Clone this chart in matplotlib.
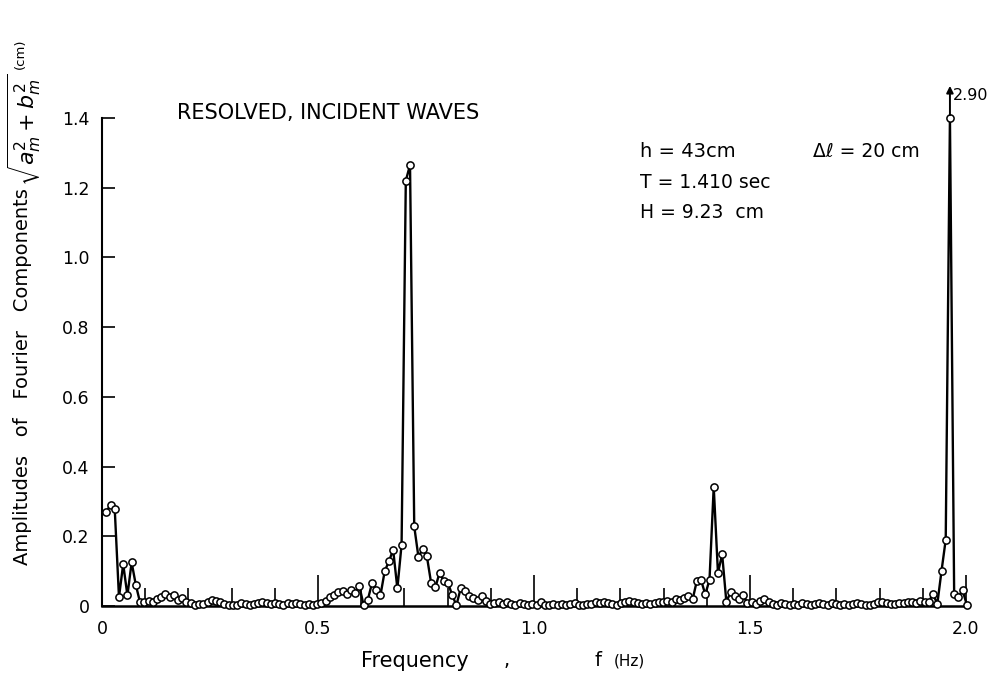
import numpy as np
import matplotlib
matplotlib.use("Agg")
import matplotlib.pyplot as plt

# frequency resolution of the record (1/102.4 s), harmonics k = 1..205
df = 1.0 / 102.4
harmonic = np.arange(1, 206)

# amplitude sqrt(a_m^2 + b_m^2) in cm
amp = [
    0.270, 0.290, 0.277, 0.025, 0.120, 0.030, 0.125, 0.060, 0.010, 0.012,   # k 1-10
    0.015, 0.012, 0.020, 0.027, 0.034, 0.025, 0.032, 0.017, 0.024, 0.012,   # k 11-20
    0.008, 0.003, 0.005, 0.006, 0.012, 0.017, 0.015, 0.012, 0.006, 0.003,   # k 21-30
    0.004, 0.003, 0.008, 0.005, 0.003, 0.005, 0.007, 0.011, 0.008, 0.005,   # k 31-40
    0.009, 0.006, 0.004, 0.007, 0.005, 0.009, 0.006, 0.004, 0.005, 0.003,   # k 41-50
    0.006, 0.008, 0.013, 0.025, 0.032, 0.040, 0.044, 0.034, 0.047, 0.037,   # k 51-60
    0.056, 0.002, 0.018, 0.066, 0.047, 0.031, 0.100, 0.128, 0.161, 0.050,   # k 61-70
    0.176, 1.220, 1.265, 0.228, 0.140, 0.164, 0.142, 0.066, 0.053, 0.095,   # k 71-80
    0.071, 0.066, 0.031, 0.002, 0.050, 0.042, 0.028, 0.023, 0.018, 0.028,   # k 81-90
    0.013, 0.006, 0.008, 0.010, 0.005, 0.010, 0.006, 0.004, 0.008, 0.005,   # k 91-100
    0.003, 0.006, 0.004, 0.010, 0.004, 0.003, 0.005, 0.004, 0.006, 0.003,   # k 101-110
    0.005, 0.008, 0.004, 0.003, 0.006, 0.005, 0.010, 0.007, 0.012, 0.008,   # k 111-120
    0.005, 0.003, 0.008, 0.012, 0.015, 0.010, 0.007, 0.005, 0.008, 0.006,   # k 121-130
    0.009, 0.012, 0.010, 0.015, 0.012, 0.020, 0.017, 0.024, 0.029, 0.019,   # k 131-140
    0.072, 0.074, 0.033, 0.075, 0.342, 0.095, 0.148, 0.011, 0.040, 0.029,   # k 141-150
    0.021, 0.030, 0.008, 0.010, 0.006, 0.014, 0.019, 0.012, 0.006, 0.004,   # k 151-160
    0.008, 0.005, 0.003, 0.006, 0.004, 0.007, 0.005, 0.003, 0.006, 0.008,   # k 161-170
    0.005, 0.004, 0.007, 0.005, 0.003, 0.006, 0.004, 0.005, 0.008, 0.006,   # k 171-180
    0.004, 0.003, 0.006, 0.010, 0.012, 0.008, 0.006, 0.005, 0.009, 0.007,   # k 181-190
    0.010, 0.012, 0.009, 0.015, 0.012, 0.012, 0.035, 0.005, 0.100, 0.190,   # k 191-200
    2.900, 0.035, 0.025, 0.045, 0.003,                                      # k 201-205
]

freq = harmonic * df
amp = np.array(amp)
ytop = 1.4

fig = plt.figure(figsize=(10.01, 6.74), dpi=100)
ax = fig.add_axes([0.102, 0.101, 0.863, 0.724])

# off-scale values are drawn at the top of the axis
ax.plot(freq, np.minimum(amp, ytop), "-o", color="black", lw=1.7,
        ms=5.2, mfc="white", mec="black", mew=1.1, clip_on=False, zorder=3)

ax.set_xlim(0, 2.0)
ax.set_ylim(0, ytop)
for s in ["top", "right"]:
    ax.spines[s].set_visible(False)
ax.spines["left"].set_linewidth(1.5)
ax.spines["bottom"].set_linewidth(1.8)

ax.set_xticks([0, 0.5, 1.0, 1.5, 2.0])
ax.set_xticklabels(["0", "0.5", "1.0", "1.5", "2.0"])
ax.set_xticks(np.arange(1, 20) / 10, minor=True)
ax.set_yticks(np.arange(0, 8) * 0.2)
ax.set_yticklabels(["0", "0.2", "0.4", "0.6", "0.8", "1.0", "1.2", "1.4"])
ax.tick_params(axis="x", which="major", direction="in", length=22, width=1.2,
               labelsize=12.5, pad=10)
ax.tick_params(axis="x", which="minor", direction="in", length=13, width=1.2)
ax.tick_params(axis="y", direction="in", length=9, width=1.2, labelsize=12.5, pad=9)

# the clipped spike
kmax = int(np.argmax(amp))
ax.annotate("", xy=(freq[kmax], ytop + 0.1), xytext=(freq[kmax], ytop),
            arrowprops=dict(arrowstyle="-|>", color="black", lw=1.4,
                            mutation_scale=10), annotation_clip=False)
ax.text(freq[kmax] + 0.007, ytop + 0.065, "%.2f" % amp[kmax], fontsize=11.5,
        va="center", ha="left")

fig.text(0.177, 0.833, "RESOLVED, INCIDENT WAVES", fontsize=15, va="center")
fig.text(0.639, 0.775, "h = 43cm", fontsize=14, va="center")
fig.text(0.812, 0.775, "Δℓ = 20 cm", fontsize=13.5, va="center")
fig.text(0.639, 0.729, "T = 1.410 sec", fontsize=13.5, va="center")
fig.text(0.639, 0.684, "H = 9.23  cm", fontsize=13.5, va="center")

fig.text(0.361, 0.020, "Frequency", fontsize=15, va="center")
fig.text(0.503, 0.020, ",", fontsize=14, va="center")
fig.text(0.594, 0.020, "f", fontsize=14, va="center")
fig.text(0.613, 0.020, "(Hz)", fontsize=11, va="center")

# y label in three pieces, chained one after the other
r = fig.canvas.get_renderer()
t1 = fig.text(0.022, 0.162, "Amplitudes   of   Fourier   Components",
              fontsize=14, rotation=90, va="bottom", ha="center")
y1 = t1.get_window_extent(r).y1 / fig.bbox.height
t2 = fig.text(0.024, y1 + 0.003, r"$\sqrt{a_m^2+b_m^2}$",
              fontsize=16, rotation=90, va="bottom", ha="center")
y2 = t2.get_window_extent(r).y1 / fig.bbox.height
fig.text(0.020, y2 + 0.006, "(cm)", fontsize=9.5, rotation=90,
         va="bottom", ha="center")

fig.savefig("out.png", dpi=100)
